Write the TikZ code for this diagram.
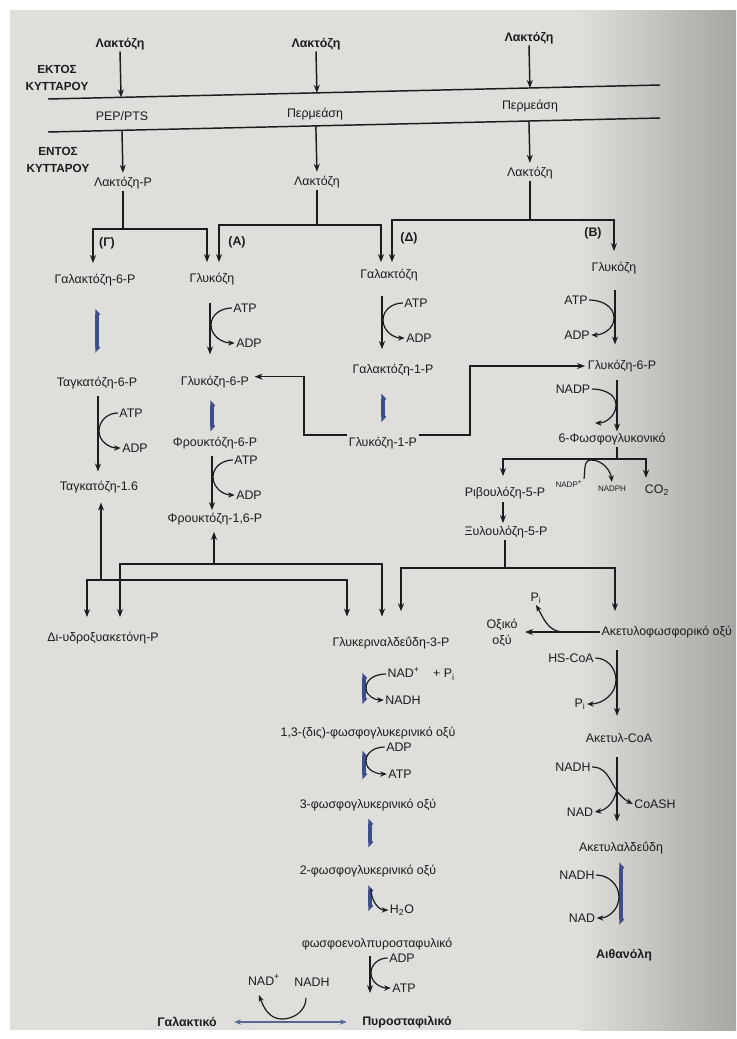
\documentclass[tikz,border=0pt]{standalone}
\usepackage{fontspec}
\setmainfont{Liberation Sans}
\usetikzlibrary{arrows.meta,calc}
\definecolor{page}{RGB}{224,222,218}
\definecolor{pagedark}{RGB}{168,166,162}
\definecolor{ink}{RGB}{28,28,30}
\definecolor{eqblue}{RGB}{62,78,138}
\definecolor{lineblue}{RGB}{88,104,150}
\begin{document}
\begin{tikzpicture}[x=0.75pt,y=-0.75pt,
  every node/.style={inner sep=1pt, text=ink},
  txt/.style={font=\fontsize{9.3}{10}\selectfont},
  bt/.style={font=\fontsize{9.3}{10}\selectfont\bfseries},
  zone/.style={font=\fontsize{8.8}{12.3}\selectfont\bfseries, align=center},
  sm/.style={font=\fontsize{6}{7}\selectfont},
  ln/.style={draw=ink, line width=1.1pt},
  arr/.style={draw=ink, line width=1.1pt, -{Stealth[length=6pt,width=4.5pt]}},
  carr/.style={draw=ink, line width=0.9pt, -{Stealth[length=5pt,width=4pt]}},
  eq/.style={draw=eqblue, line width=2.6pt, line cap=round, {Straight Barb[harpoon,swap,length=1.6pt,width=3pt]}-{Straight Barb[harpoon,length=1.6pt,width=3pt]}},
  blu/.style={draw=lineblue, line width=1.6pt, {Stealth[length=5pt,width=4pt]}-{Stealth[length=5pt,width=4pt]}},
]
% ---------- page ----------
\useasboundingbox (0,0) rectangle (736,1039);
\fill[white] (0,0) rectangle (736,1039);
\fill[page] (10,10) rectangle (580,1030);
\shade[left color=page, right color=pagedark] (579.5,10) rectangle (736,1030);

% ---------- top: membrane ----------
\node[bt] (lacA) at (120,44) {Λακτόζη};
\node[bt] (lacB) at (316,44) {Λακτόζη};
\node[bt] (lacC) at (529,38) {Λακτόζη};
\node[zone] (ektos) at (57,78) {ΕΚΤΟΣ\\ΚΥΤΤΑΡΟΥ};
\node[zone] (entos) at (58,160) {ΕΝΤΟΣ\\ΚΥΤΤΑΡΟΥ};
\coordinate (m1L) at (48,99);  \coordinate (m1R) at (660,85);
\coordinate (m2L) at (48,132); \coordinate (m2R) at (660,118);
\draw[ln] (m1L) -- (m1R);
\draw[ln] (m2L) -- (m2R);
\node[txt] (pep) at (122,116) {PEP/PTS};
\node[txt] (perA) at (315,114) {Περμεάση};
\node[txt] (perB) at (530,106) {Περμεάση};
\draw[arr] (lacA.south) -- ($(m1L)!(lacA.south)!(m1R)$);
\draw[arr] (lacB.south) -- ($(m1L)!(lacB.south)!(m1R)$);
\draw[arr] (lacC.south) -- ($(m1L)!(lacC.south)!(m1R)$);

\node[txt] (lacP) at (123,183) {Λακτόζη-P};
\node[txt] (lac2) at (317,182) {Λακτόζη};
\node[txt] (lac3) at (530,173) {Λακτόζη};
\draw[arr, shorten >=2pt] ($(m2L)!(lacP.north)!(m2R)$) -- (lacP.north);
\draw[arr, shorten >=2pt] ($(m2L)!(lac2.north)!(m2R)$) -- (lac2.north);
\draw[arr, shorten >=2pt] ($(m2L)!(lac3.north)!(m2R)$) -- (lac3.north);

% ---------- first products ----------
\node[txt] (gal6p) at (95,280) {Γαλακτόζη-6-P};
\node[txt] (gluA) at (212,279) {Γλυκόζη};
\node[txt] (gal) at (389,275) {Γαλακτόζη};
\node[txt] (gluB) at (614,268) {Γλυκόζη};
\node[bt] (labG) at (107,243) {(Γ)};
\node[bt] (labA) at (237,242) {(A)};
\node[bt] (labD) at (409,238) {(Δ)};
\node[bt] (labB) at (593,233) {(B)};

\draw[ln] (lacP) -- (lacP |- 0,229);
\draw[arr, shorten >=7pt] (lacP |- 0,229) -| (gal6p.north -| 93,0);
\draw[arr, shorten >=7pt] (lacP |- 0,229) -| (gluA.north -| 207,0);
\draw[ln] (lac2) -- (lac2 |- 0,225);
\draw[arr, shorten >=7pt] (lac2 |- 0,225) -| (gluA.north -| 219,0);
\draw[arr, shorten >=4pt] (lac2 |- 0,225) -| (gal.north -| 381,0);
\draw[ln] (lac3) -- (lac3 |- 0,220);
\draw[arr, shorten >=4pt] (lac3 |- 0,220) -| (gal.north -| 392,0);
\draw[arr, shorten >=7pt] (lac3 |- 0,220) -| (gluB.north -| 614,0);

% ---------- column Γ ----------
\node[txt] (tag6p) at (97,383) {Ταγκατόζη-6-P};
\node[txt] (tag16) at (99,487) {Ταγκατόζη-1.6};
\node[txt] (atp1) at (131,413) {ATP};
\node[txt] (adp1) at (135,448) {ADP};
\draw[eq, shorten <=16pt, shorten >=17pt] (gal6p.south -| 97,0) -- (tag6p.north -| 97,0);
\draw[arr, shorten <=4pt, shorten >=6pt] (tag6p.south -| 98,0) -- (tag16.north -| 98,0);
\coordinate (cG) at (99,431);
\draw[carr] (atp1.west) to[out=180,in=90] (cG) to[out=-90,in=180] (adp1.west);

% ---------- column A ----------
\node[txt] (g6pA) at (215,382) {Γλυκόζη-6-P};
\node[txt] (f6p) at (215,443) {Φρουκτόζη-6-P};
\node[txt] (f16) at (215,519) {Φρουκτόζη-1,6-P};
\node[txt] (atp2) at (245,308) {ATP};
\node[txt] (adp2) at (249,343) {ADP};
\node[txt] (atp3) at (246,460) {ATP};
\node[txt] (adp3) at (249,495) {ADP};
\draw[arr, shorten <=12pt, shorten >=15pt] (gluA.south -| 210,0) -- (g6pA.north -| 210,0);
\coordinate (cA1) at (211,325);
\draw[carr] (atp2.west) to[out=180,in=90] (cA1) to[out=-90,in=180] (adp2.west);
\draw[eq, shorten <=8pt, shorten >=3pt] (g6pA.south -| 212,0) -- (f6p.north -| 212,0);
\draw[arr, shorten <=4pt, shorten >=1pt] (f6p.south -| 212,0) -- (f16.north -| 212,0);
\coordinate (cA2) at (213,477);
\draw[carr] (atp3.west) to[out=180,in=90] (cA2) to[out=-90,in=180] (adp3.west);

% ---------- column Δ ----------
\node[txt] (gal1p) at (393,370) {Γαλακτόζη-1-P};
\node[txt] (g1p) at (383,443) {Γλυκόζη-1-P};
\node[txt] (atp4) at (416,303) {ATP};
\node[txt] (adp4) at (419,338) {ADP};
\draw[arr, shorten <=10pt, shorten >=10pt] (gal.south -| 382,0) -- (gal1p.north -| 382,0);
\coordinate (cD) at (383,320);
\draw[carr] (atp4.west) to[out=180,in=90] (cD) to[out=-90,in=180] (adp4.west);
\draw[eq, shorten <=12pt, shorten >=10pt] (gal1p.south -| 383,0) -- (g1p.north -| 383,0);
\draw[arr, shorten >=3pt] ([yshift=6pt]g1p.west) -- ([yshift=6pt]g1p.west -| 304,0) -- ([yshift=4pt]g6pA.east -| 304,0) -- ([yshift=4pt]g6pA.east);

% ---------- column B ----------
\node[txt] (g6pB) at (622,366) {Γλυκόζη-6-P};
\node[txt] (pg6) at (612,439) {6-Φωσφογλυκονικό};
\node[txt] (atp5) at (576,300) {ATP};
\node[txt] (adp5) at (577,335) {ADP};
\node[txt] (nadp) at (573,389) {NADP};
\draw[arr, shorten <=11pt, shorten >=10.5pt] (gluB.south -| 615,0) -- (g6pB.north -| 615,0);
\coordinate (cB) at (614,318);
\draw[carr] (atp5.east) to[out=0,in=90] (cB) to[out=-90,in=0] (adp5.east);
\draw[arr, shorten <=5pt] (g6pB.south -| 617,0) -- (pg6.north -| 617,0);
\coordinate (cB2) at (616,405);
\coordinate (eB2) at (595,423);
\draw[carr] (nadp.east) to[out=0,in=90] (cB2) to[out=-90,in=0] (eB2);
\draw[arr, shorten >=1pt] ([yshift=6pt]g1p.east) -- ([yshift=6pt]g1p.east -| 470,0) -- (g6pB.west -| 470,0) -- (g6pB.west);

\node[txt] (ru5p) at (505,493) {Ριβουλόζη-5-P};
\node[txt] (xu5p) at (506,532) {Ξυλουλόζη-5-P};
\node[sm] (nadpp) at (569,484) {NADP\textsuperscript{+}};
\node[sm] (nadph) at (612,489) {NADPH};
\node[txt] (co2) at (657,490) {CO\textsubscript{2}};
\draw[ln] (pg6.south -| 617,0) -- (617,459);
\draw[arr, shorten >=7pt] (617,459) -| (ru5p.north -| 503,0);
\draw[arr, shorten >=4pt] (617,459) -| (co2.north -| 646,0);
\coordinate (cR) at (591,460);
\draw[carr, shorten >=2pt] (nadpp.north east) to[out=80,in=180] (cR) to[out=0,in=95] (nadph.north);
\draw[arr, shorten <=1pt, shorten >=1pt] (ru5p.south -| 503,0) -- (xu5p.north -| 503,0);

% ---------- trioses ----------
\node[txt] (dhap) at (103,638) {Δι-υδροξυακετόνη-P};
\node[txt] (gap) at (391,643) {Γλυκεριναλδεΰδη-3-P};
\coordinate (jT) at (101,580);
\coordinate (jF) at (214,564);
\draw[arr, shorten >=6pt] (jT) -- (tag16.south -| jT);
\draw[arr, shorten >=10pt] (jT) -| (dhap.north -| 87,0);
\draw[arr, shorten >=14pt] (jT) -| (gap.north -| 347,0);
\draw[arr, shorten >=4pt] (jF) -- (f16.south -| jF);
\draw[arr, shorten >=10pt] (jF) -| (dhap.north -| 120,0);
\draw[arr, shorten >=14pt] (jF) -| (gap.north -| 382,0);
\draw[ln] (xu5p.south -| 505,0) -- (505,568);
\node[txt, anchor=west] (acp) at (600,632) {Ακετυλοφωσφορικό οξύ};
\draw[arr, shorten >=18pt] (505,568) -| (gap.north -| 401,0);
\draw[arr, shorten >=10pt] (505,568) -| (acp.north -| 615,0);

% ---------- acetate branch ----------
\node[txt, align=center, font=\fontsize{9.3}{12.5}\selectfont] (acet) at (502,633) {Οξικό\\οξύ};
\node[txt] (pi1) at (536,598) {P\textsubscript{i}};
\draw[arr, shorten >=4.5pt] (acp.west) -- (acet.east |- acp.west);
\coordinate (cP) at (562,632);
\draw[carr] (cP) to[out=175,in=-60] (pi1.south);

\node[txt] (accoa) at (619,738) {Ακετυλ-CoA};
\node[txt] (hscoa) at (571,658) {HS-CoA};
\node[txt] (pi2) at (580,704) {P\textsubscript{i}};
\draw[arr, shorten <=8pt, shorten >=12pt] (acp.south -| 617,0) -- (accoa.north -| 617,0);
\coordinate (cAc1) at (616,680);
\draw[carr] (hscoa.east) to[out=0,in=90] (cAc1) to[out=-90,in=0] (pi2.east);

\node[txt] (acald) at (621,848) {Ακετυλαλδεΰδη};
\node[txt] (nadh1) at (573,767) {NADH};
\node[txt] (nad1) at (580,812) {NAD};
\node[txt] (coash) at (655,804) {CoASH};
\draw[arr, shorten <=10pt, shorten >=14pt] (accoa.south -| 617,0) -- (acald.north -| 617,0);
\draw[carr] (nadh1.east) .. controls (612,767) and (610,792) .. (coash.west);
\coordinate (cAc2) at (617,789);
\draw[carr] (cAc2) to[out=-100,in=10] (nad1.east);

\node[bt] (etoh) at (624,955) {Αιθανόλη};
\node[txt] (nadh2) at (577,875) {NADH};
\node[txt] (nad2) at (582,918) {NAD};
\draw[eq, shorten <=5pt, shorten >=17pt] (acald.south -| 621,0) -- (etoh.north -| 621,0);
\coordinate (cAc3) at (619,897);
\draw[carr] (nadh2.east) to[out=0,in=90] (cAc3) to[out=-90,in=0] (nad2.east);

% ---------- glycolysis lower part ----------
\node[txt] (bpg) at (368,733) {1,3-(δις)-φωσφογλυκερινικό οξύ};
\node[txt] (pg3) at (368,805) {3-φωσφογλυκερινικό οξύ};
\node[txt] (pg2) at (368,871) {2-φωσφογλυκερινικό οξύ};
\node[txt] (pep2) at (377,944) {φωσφοενολπυροσταφυλικό};
\node[bt] (pyr) at (407,1022) {Πυροσταφιλικό};
\node[bt] (lact) at (187,1022) {Γαλακτικό};

\node[txt, anchor=west] (nadpi) at (386,674) {NAD\textsuperscript{+}\hspace{1.1em}+ P\textsubscript{i}};
\node[txt] (nadh3) at (403,700) {NADH};
\draw[eq, shorten <=16.5pt, shorten >=16pt] (gap.south -| 364,0) -- (bpg.north -| 364,0);
\coordinate (cY1) at (366,688);
\draw[carr] (nadpi.west) to[out=180,in=90] (cY1) to[out=-90,in=180] (nadh3.west);

\node[txt] (adp6) at (399,747) {ADP};
\node[txt] (atp6) at (400,774) {ATP};
\draw[eq, shorten <=7.5pt, shorten >=13.5pt] (bpg.south -| 364,0) -- (pg3.north -| 364,0);
\coordinate (cY2) at (366,761);
\draw[carr] (adp6.west) to[out=180,in=90] (cY2) to[out=-90,in=180] (atp6.west);

\draw[eq, shorten <=4.5pt, shorten >=12pt] (pg3.south -| 370,0) -- (pg2.north -| 370,0);

\node[txt] (h2o) at (402,910) {H\textsubscript{2}O};
\draw[eq, shorten <=5pt, shorten >=19pt] (pg2.south -| 370,0) -- (pep2.north -| 370,0);
\coordinate (cY3) at (371,889);
\draw[carr] (cY3) to[out=-90,in=180] (h2o.west);

\node[txt] (adp7) at (402,958) {ADP};
\node[txt] (atp7) at (404,988) {ATP};
\draw[arr, shorten <=3pt, shorten >=16pt] (pep2.south -| 370,0) -- (pyr.north -| 370,0);
\coordinate (cY4) at (371,973);
\draw[carr] (adp7.west) to[out=180,in=90] (cY4) to[out=-90,in=180] (atp7.west);

% ---------- lactate ----------
\node[txt] (nadL) at (264,980) {NAD\textsuperscript{+}};
\node[txt] (nadhL) at (312,982) {NADH};
\draw[blu, shorten <=12pt, shorten >=10.5pt] (lact.east) -- (pyr.west);
\coordinate (cU1) at (306,998);
\coordinate (cU2) at (282,1019);
\coordinate (cU3) at (259,995);
\draw[carr] (cU1) to[out=-90,in=0] (cU2) to[out=180,in=-70] (cU3);
\end{tikzpicture}
\end{document}
